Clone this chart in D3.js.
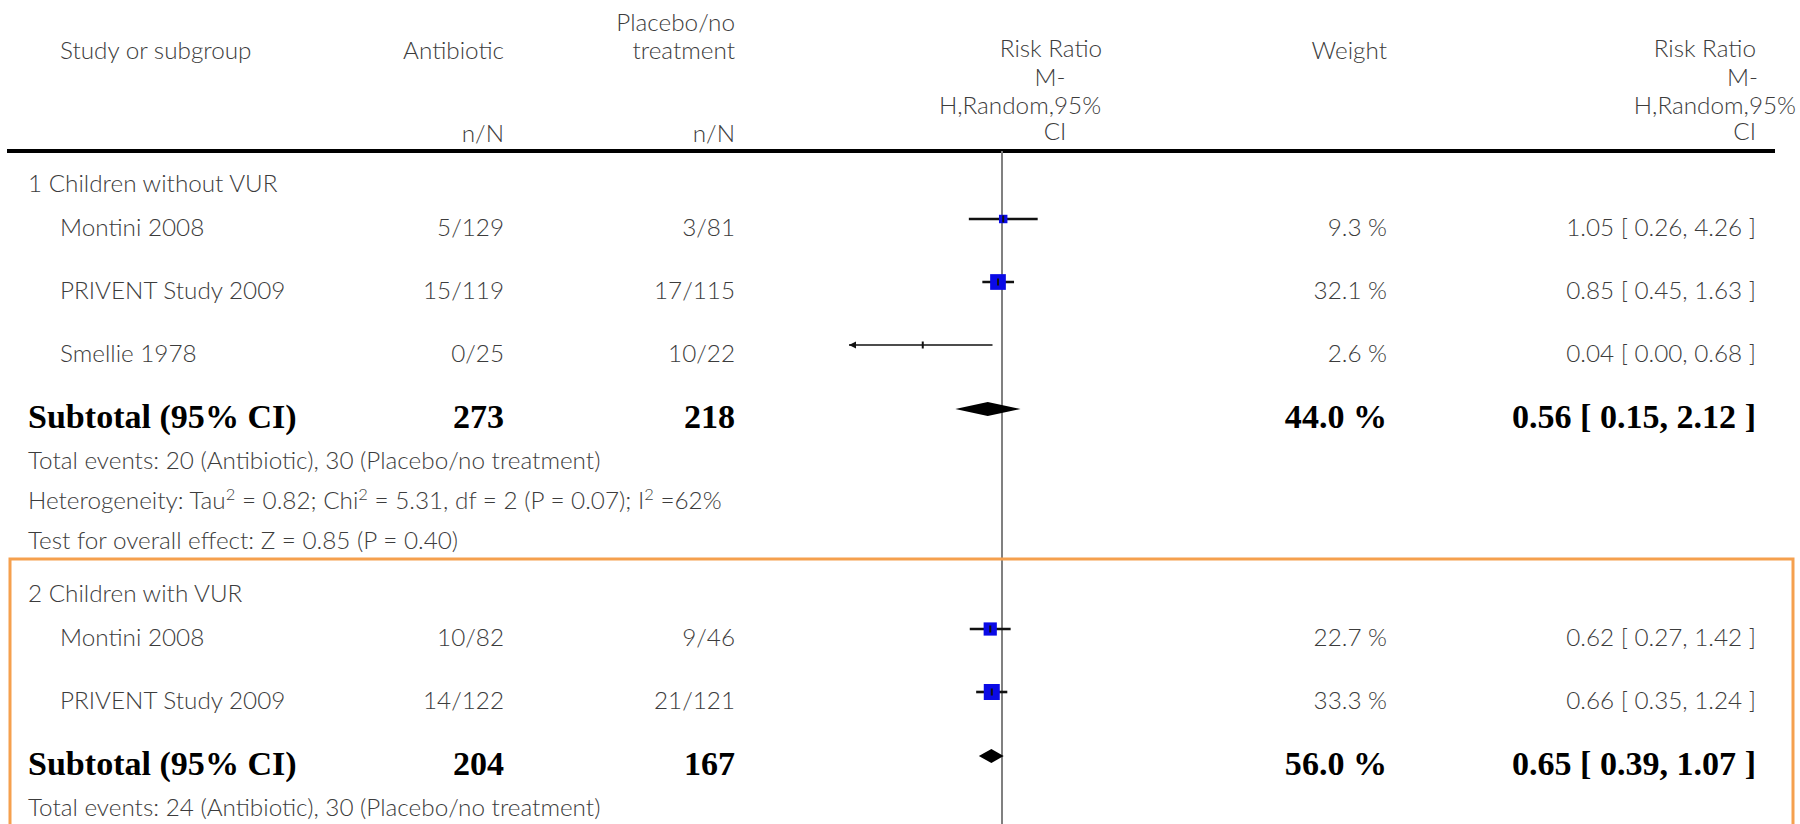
<!DOCTYPE html>
<html><head><meta charset="utf-8">
<script src="https://cdn.jsdelivr.net/npm/d3@7/dist/d3.min.js"></script>
<style>
html,body{margin:0;padding:0;background:#fff;}
svg{display:block;}
</style></head>
<body>
<svg id="chart" width="1800" height="824"></svg>
<script>
// ---------------- DATA ----------------
const groupLabels = ["1 Children without VUR", "2 Children with VUR"];
const studyNames = ["Montini 2008", "PRIVENT Study 2009", "Smellie 1978", "Montini 2008", "PRIVENT Study 2009"];
const studyGroup = [0, 0, 0, 1, 1];
const antibioticNN = ["5/129", "15/119", "0/25", "10/82", "14/122"];
const placeboNN = ["3/81", "17/115", "10/22", "9/46", "21/121"];
const studyWeight = [9.3, 32.1, 2.6, 22.7, 33.3];
const studyRR = [1.05, 0.85, 0.04, 0.62, 0.66];
const studyLo = [0.26, 0.45, 0.00, 0.27, 0.35];
const studyHi = [4.26, 1.63, 0.68, 1.42, 1.24];
const subAntibiotic = [273, 204];
const subPlacebo = [218, 167];
const subWeight = [44.0, 56.0];
const subRR = [0.56, 0.65];
const subLo = [0.15, 0.39];
const subHi = [2.12, 1.07];
const groupNotes = [
  ["Total events: 20 (Antibiotic), 30 (Placebo/no treatment)",
   "Heterogeneity: Tau² = 0.82; Chi² = 5.31, df = 2 (P = 0.07); I² =62%",
   "Test for overall effect: Z = 0.85 (P = 0.40)"],
  ["Total events: 24 (Antibiotic), 30 (Placebo/no treatment)"]
];
const headerStudy = "Study or subgroup";
const headerAntibiotic = ["Antibiotic", "n/N"];
const headerPlacebo = ["Placebo/no", "treatment", "n/N"];
const headerRR = ["Risk Ratio", "M-", "H,Random,95%", "CI"];
const headerWeight = "Weight";
const scaleDomain = [0.002, 500];

// ---------------- LAYOUT / STYLE ----------------
const svg = d3.select("#chart");
const LIGHT = "Lato, 'Open Sans', sans-serif";
const BOLD = "'Liberation Serif', 'Times New Roman', serif";
const grey = "#3c3c3c";

const cv = document.createElement("canvas").getContext("2d");
function w(text, font) { cv.font = font; return cv.measureText(text).width; }
function fit(samples, weight, fam) {
  let r = 0;
  samples.forEach(([t, target]) => { r += target / w(t, weight + " 100px " + fam); });
  return 100 * r / samples.length;
}
const lightSize = fit([["PRIVENT Study 2009", 220], ["Total events: 20 (Antibiotic), 30 (Placebo/no treatment)", 585], ["1 Children without VUR", 253]], "300", "Lato");
const boldSize = fit([["Subtotal (95% CI)", 260], ["0.56 [ 0.15, 2.12 ]", 252]], "bold", "Liberation Serif");

const col = { group: 28, name: 60, abx: 504, plc: 735, weight: 1387, rr: 1756 };
const x = d3.scaleLog().domain(scaleDomain).range([849, 1155]);
const fmt2 = d3.format(".2f"), fmt1 = d3.format(".1f");

function light(xp, yc, text, anchor) {
  const t = svg.append("text").attr("x", xp).attr("y", yc + lightSize * 0.36)
    .attr("text-anchor", anchor || "start")
    .style("font-family", LIGHT).style("font-weight", 300)
    .style("font-size", lightSize + "px").style("fill", grey);
  // render "²" as a raised, smaller 2
  const parts = text.split("²");
  const shift = lightSize * 0.36;
  parts.forEach((p, k) => {
    t.append("tspan").attr("dy", k > 0 ? shift : 0).text(p);
    if (k < parts.length - 1) {
      t.append("tspan").attr("dy", -shift).style("font-size", (lightSize * 0.68) + "px").text("2");
    }
  });
  return t;
}
function bold(xp, yc, text, anchor) {
  return svg.append("text").attr("x", xp).attr("y", yc + boldSize * 0.33)
    .attr("text-anchor", anchor || "start")
    .style("font-family", BOLD).style("font-weight", "bold")
    .style("font-size", boldSize + "px").style("fill", "#000").text(text);
}

// ---------------- HEADER ----------------
light(col.name, 50, headerStudy);
light(col.abx, 50, headerAntibiotic[0], "end");
light(col.abx, 133, headerAntibiotic[1], "end");
light(col.plc, 22, headerPlacebo[0], "end");
light(col.plc, 50, headerPlacebo[1], "end");
light(col.plc, 133, headerPlacebo[2], "end");
const rrHeadY = [48, 77, 105, 131];
const rrHeadCx = [1051, 1050, 1020, 1055];
headerRR.forEach((t, i) => light(rrHeadCx[i], rrHeadY[i], t, "middle"));
light(col.weight, 50, headerWeight, "end");
const rrRightX = [col.rr, col.rr + 2, col.rr + 40, col.rr];
headerRR.forEach((t, i) => light(rrRightX[i], rrHeadY[i], t, "end"));

svg.append("line").attr("x1", 7).attr("x2", 1775).attr("y1", 151).attr("y2", 151)
  .attr("stroke", "#000").attr("stroke-width", 4);

// ---------------- ROWS ----------------
const rows = [];
groupLabels.forEach((g, gi) => {
  rows.push({ type: "label", text: g, gi });
  studyNames.forEach((n, i) => { if (studyGroup[i] === gi) rows.push({ type: "study", i }); });
  rows.push({ type: "sub", gi });
  groupNotes[gi].forEach(t => rows.push({ type: "note", text: t }));
});
const gapBefore = { "label>study": 44, "study>study": 63, "study>sub": 64, "sub>note": 43, "note>note": 40, "note>label": 53 };
let yy = 183;
rows.forEach((r, k) => {
  if (k > 0) yy += gapBefore[rows[k - 1].type + ">" + r.type];
  r.y = yy;
});

// reference line (RR = 1)
svg.append("line").attr("x1", x(1)).attr("x2", x(1)).attr("y1", 151).attr("y2", 824)
  .attr("stroke", "#808080").attr("stroke-width", 2);

const sq = d3.scaleSqrt().domain([0, 33.3]).range([0, 16]);
const markOff = -8;

rows.forEach(r => {
  if (r.type === "label" || r.type === "note") {
    light(col.group, r.y, r.text);
  } else if (r.type === "study") {
    const i = r.i;
    light(col.name, r.y, studyNames[i]);
    light(col.abx, r.y, antibioticNN[i], "end");
    light(col.plc, r.y, placeboNN[i], "end");
    light(col.weight, r.y, fmt1(studyWeight[i]) + " %", "end");
    light(col.rr, r.y, fmt2(studyRR[i]) + " [ " + fmt2(studyLo[i]) + ", " + fmt2(studyHi[i]) + " ]", "end");
    const my = r.y + markOff;
    const lowClipped = studyLo[i] < scaleDomain[0];
    const x0 = lowClipped ? x.range()[0] : x(studyLo[i]);
    const x1 = studyHi[i] > scaleDomain[1] ? x.range()[1] : x(studyHi[i]);
    svg.append("line").attr("x1", x0).attr("x2", x1).attr("y1", my).attr("y2", my)
      .attr("stroke", "#111").attr("stroke-width", studyWeight[i] < 5 ? 1.6 : 2.6);
    if (lowClipped) {
      svg.append("path").attr("d", `M${x0},${my} l7,-3.5 l0,7 z`).attr("fill", "#111");
    }
    const s = sq(studyWeight[i]);
    if (studyWeight[i] >= 5) {
      svg.append("rect").attr("x", x(studyRR[i]) - s / 2).attr("y", my - s / 2)
        .attr("width", s).attr("height", s).attr("fill", "#0a0ae6");
    }
    svg.append("line").attr("x1", x(studyRR[i])).attr("x2", x(studyRR[i]))
      .attr("y1", my - 3.5).attr("y2", my + 3.5).attr("stroke", "#111").attr("stroke-width", 2);
  } else if (r.type === "sub") {
    const g = r.gi;
    bold(col.group, r.y, "Subtotal (95% CI)");
    bold(col.abx, r.y, String(subAntibiotic[g]), "end");
    bold(col.plc, r.y, String(subPlacebo[g]), "end");
    bold(col.weight, r.y, fmt1(subWeight[g]) + " %", "end");
    bold(col.rr, r.y, fmt2(subRR[g]) + " [ " + fmt2(subLo[g]) + ", " + fmt2(subHi[g]) + " ]", "end");
    const my = r.y + markOff;
    svg.append("path")
      .attr("d", `M${x(subLo[g])},${my} L${x(subRR[g])},${my - 7} L${x(subHi[g])},${my} L${x(subRR[g])},${my + 7} Z`)
      .attr("fill", "#000");
  }
});

// highlight box round group 2
const g2 = rows.find(r => r.type === "label" && r.gi === 1);
svg.append("path")
  .attr("d", `M10,830 L10,${g2.y - 34} L1793,${g2.y - 34} L1793,830`)
  .attr("fill", "none").attr("stroke", "#f5a04e").attr("stroke-width", 3);
</script>
</body></html>
